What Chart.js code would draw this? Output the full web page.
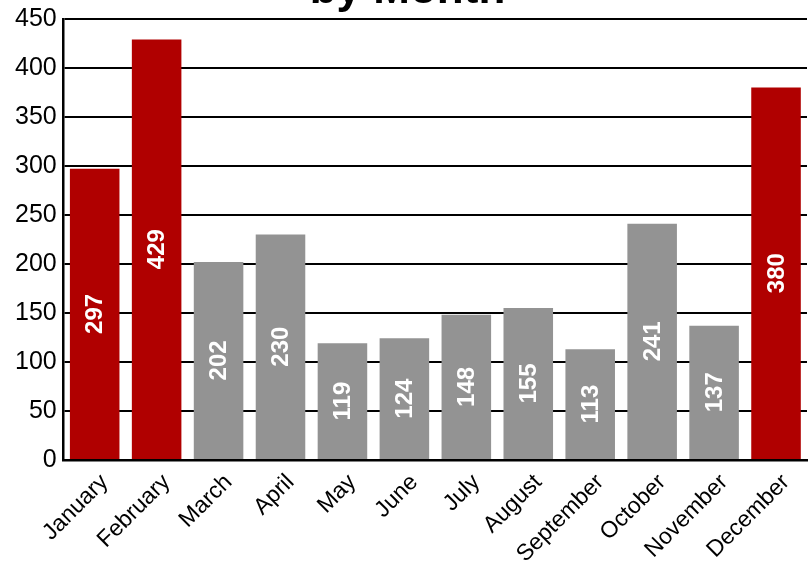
<!DOCTYPE html>
<html>
<head>
<meta charset="utf-8">
<script src="https://cdn.jsdelivr.net/npm/chart.js@4/dist/chart.umd.min.js"></script>
<style>
  html, body { margin: 0; padding: 0; background: #fff; overflow: hidden; }
  #wrap { position: absolute; left: 0; top: -36px; width: 809px; height: 613px; }
</style>
</head>
<body>
<div id="wrap"><canvas id="myChart"></canvas></div>
<script>
const months = ['January', 'February', 'March', 'April', 'May', 'June',
                'July', 'August', 'September', 'October', 'November', 'December'];
const counts = [297, 429, 202, 230, 119, 124, 148, 155, 113, 241, 137, 380];
const highlighted = ['January', 'February', 'December'];
const yTicks = [0, 50, 100, 150, 200, 250, 300, 350, 400, 450];

const RED = '#b00000';
const GRAY = '#939393';
const FONT = "'Liberation Sans', Arial, sans-serif";

const barColors = months.map(m => highlighted.includes(m) ? RED : GRAY);

// white rotated value labels inside each bar
const barLabels = {
    id: 'barLabels',
    afterDatasetsDraw(chart) {
        const ctx = chart.ctx;
        const meta = chart.getDatasetMeta(0);
        ctx.save();
        ctx.fillStyle = '#fff';
        ctx.font = 'bold 24px ' + FONT;
        ctx.textAlign = 'center';
        ctx.textBaseline = 'middle';
        meta.data.forEach((bar, i) => {
            const mid = (bar.y + bar.base) / 2;
            ctx.save();
            ctx.translate(bar.x, mid);
            ctx.rotate(-Math.PI / 2);
            ctx.fillText(String(counts[i]), 0, 1);
            ctx.restore();
        });
        ctx.restore();
    }
};

const ctx = document.getElementById('myChart').getContext('2d');
const barChart = new Chart(ctx, {
    type: 'bar',
    data: {
        labels: months,
        datasets: [{
            data: counts,
            backgroundColor: barColors,
            borderWidth: 0,
            barPercentage: 0.8,
            categoryPercentage: 1.0
        }]
    },
    options: {
        responsive: true,
        maintainAspectRatio: false,
        animation: false,
        layout: { padding: { left: 8, right: 2, top: 0, bottom: 0 } },
        plugins: {
            legend: { display: false },
            tooltip: { enabled: false },
            title: {
                display: true,
                text: 'by Month',
                color: '#000',
                font: { family: FONT, size: 44, weight: 'bold' },
                padding: { top: 0, bottom: 2 }
            }
        },
        scales: {
            x: {
                grid: { display: false, drawTicks: false },
                border: { color: '#000', width: 2.5 },
                ticks: {
                    color: '#000',
                    font: { family: FONT, size: 23 },
                    maxRotation: 45,
                    minRotation: 45,
                    labelOffset: 10,
                    padding: 9
                }
            },
            y: {
                min: 0,
                max: 450,
                afterBuildTicks(axis) { axis.ticks = yTicks.map(v => ({ value: v })); },
                grid: { color: '#000', lineWidth: 2, drawTicks: false },
                border: { color: '#000', width: 2.5 },
                ticks: {
                    color: '#000',
                    font: { family: FONT, size: 25 },
                    padding: 7
                }
            }
        }
    },
    plugins: [barLabels]
});
</script>
</body>
</html>
